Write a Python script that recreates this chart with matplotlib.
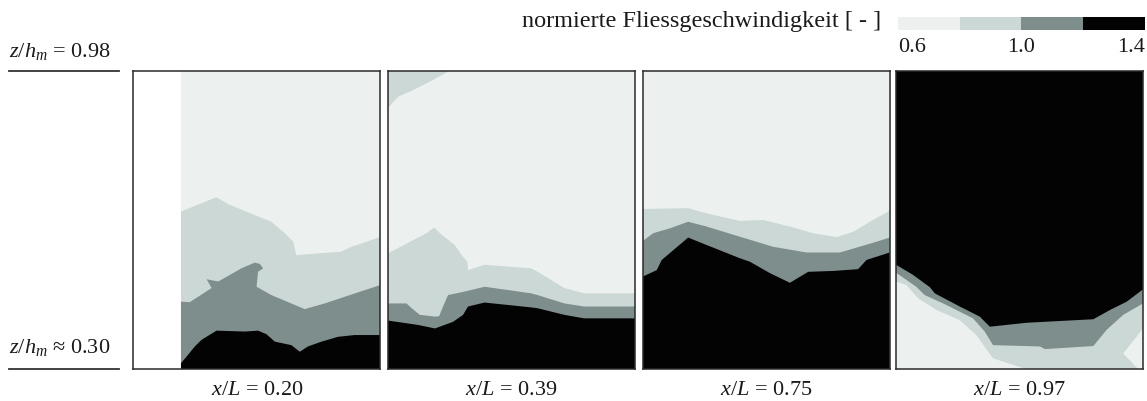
import matplotlib
matplotlib.use("Agg")
import matplotlib.pyplot as plt

plt.rcParams['font.family'] = ['Liberation Serif', 'DejaVu Serif']
plt.rcParams['mathtext.fontset'] = 'custom'
plt.rcParams['mathtext.rm'] = 'Liberation Serif'
plt.rcParams['mathtext.it'] = 'Liberation Serif:italic'

# ---------------- data ----------------
panel_labels = ["0.20", "0.39", "0.75", "0.97"]
z_top, z_bot = 0.98, 0.30
levels = [0.6, 0.8, 1.0, 1.2, 1.4]
level_colors = ['#ecf1f0', '#cbd8d5', '#7e8e8d', '#030303']
cbar_ticks = [0.6, 1.0, 1.4]

# Panel 1 (x/L = 0.20); measurements start at u = 0.193
p1_start = 0.193
p1_b1_u = [0.193, 0.337, 0.384, 0.559, 0.613, 0.647, 0.660, 0.842, 0.883, 1.0]
p1_b1_z = [0.659, 0.692, 0.676, 0.636, 0.610, 0.591, 0.560, 0.568, 0.579, 0.601]
p1_b2_u = [0.193, 0.229, 0.317, 0.297, 0.344, 0.438, 0.492, 0.512, 0.526, 0.505, 0.499, 0.559, 0.694, 0.775, 1.0]
p1_b2_z = [0.454, 0.453, 0.485, 0.505, 0.500, 0.530, 0.543, 0.540, 0.530, 0.522, 0.488, 0.469, 0.437, 0.450, 0.492]
p1_b3_u = [0.193, 0.216, 0.249, 0.276, 0.337, 0.451, 0.505, 0.539, 0.573, 0.640, 0.674, 0.707, 0.762, 0.829, 0.896, 1.0]
p1_b3_z = [0.314, 0.329, 0.352, 0.367, 0.388, 0.386, 0.388, 0.380, 0.363, 0.355, 0.340, 0.352, 0.363, 0.374, 0.378, 0.378]

# Panel 2 (x/L = 0.39)
p2_patch_u = [0.0, 0.25, 0.169, 0.102, 0.042, 0.021, 0.0]
p2_patch_z = [0.98, 0.98, 0.955, 0.936, 0.921, 0.909, 0.894]
p2_b1_u = [0.0, 0.156, 0.187, 0.210, 0.270, 0.304, 0.321, 0.324, 0.391, 0.579, 0.606, 0.714, 0.794, 1.0]
p2_b1_z = [0.564, 0.610, 0.623, 0.610, 0.583, 0.556, 0.545, 0.526, 0.538, 0.530, 0.522, 0.485, 0.473, 0.473]
p2_b2_u = [0.0, 0.075, 0.096, 0.129, 0.190, 0.207, 0.223, 0.243, 0.310, 0.391, 0.579, 0.606, 0.714, 0.794, 1.0]
p2_b2_z = [0.450, 0.450, 0.439, 0.424, 0.420, 0.421, 0.443, 0.469, 0.477, 0.488, 0.473, 0.469, 0.450, 0.443, 0.443]
p2_b3_u = [0.0, 0.122, 0.190, 0.263, 0.304, 0.324, 0.391, 0.579, 0.606, 0.714, 0.794, 1.0]
p2_b3_z = [0.411, 0.401, 0.393, 0.408, 0.424, 0.443, 0.452, 0.441, 0.439, 0.424, 0.416, 0.416]

# Panel 3 (x/L = 0.75)
p3_b1_u = [0.0, 0.184, 0.259, 0.393, 0.488, 0.596, 0.690, 0.784, 0.852, 0.932, 1.0]
p3_b1_z = [0.665, 0.667, 0.655, 0.638, 0.640, 0.625, 0.610, 0.601, 0.613, 0.640, 0.661]
p3_b2_u = [0.0, 0.043, 0.110, 0.184, 0.259, 0.393, 0.528, 0.663, 0.798, 0.932, 1.0]
p3_b2_z = [0.592, 0.610, 0.621, 0.636, 0.625, 0.602, 0.579, 0.566, 0.566, 0.588, 0.600]
p3_b3_u = [0.0, 0.057, 0.077, 0.184, 0.259, 0.393, 0.434, 0.515, 0.596, 0.670, 0.771, 0.872, 0.906, 1.0]
p3_b3_z = [0.511, 0.526, 0.549, 0.600, 0.583, 0.553, 0.545, 0.519, 0.497, 0.522, 0.524, 0.528, 0.549, 0.566]

# Panel 4 (x/L = 0.97) -- fast core on top
p4_b3_u = [0.0, 0.069, 0.137, 0.157, 0.258, 0.339, 0.380, 0.529, 0.799, 0.866, 0.934, 1.0]
p4_b3_z = [0.538, 0.515, 0.487, 0.473, 0.443, 0.420, 0.397, 0.406, 0.414, 0.435, 0.454, 0.482]
p4_b2_u = [0.0, 0.082, 0.116, 0.191, 0.312, 0.359, 0.393, 0.583, 0.603, 0.799, 0.853, 0.920, 1.0]
p4_b2_z = [0.520, 0.488, 0.469, 0.450, 0.416, 0.386, 0.355, 0.352, 0.346, 0.353, 0.390, 0.424, 0.450]
p4_b1_u = [0.0, 0.042, 0.089, 0.164, 0.258, 0.325, 0.393, 0.529]
p4_b1_z = [0.500, 0.492, 0.462, 0.435, 0.412, 0.378, 0.325, 0.300]
p4_wedge_u = [1.0, 0.920, 0.981, 1.0]
p4_wedge_z = [0.393, 0.336, 0.300, 0.300]

# ---------------- figure ----------------
W, H = 1147, 401
fig = plt.figure(figsize=(W / 100, H / 100), dpi=100)

panel_left_px = [133.3, 388.0, 642.7, 896.0]
panel_w_px = 247.0
panel_top_px, panel_bot_px = 70.7, 369.3
edge_col = '#2a2a2a'
txt_col = '#1a1a1a'
fs = 16


def below(u, z, u_left=0.0):
    """polygon under a boundary polyline, down to the bottom of the panel"""
    return list(u) + [1.0, u_left], list(z) + [z_bot, z_bot]


axes = []
for lp in panel_left_px:
    ax = fig.add_axes([lp / W, 1 - panel_bot_px / H, panel_w_px / W,
                       (panel_bot_px - panel_top_px) / H])
    ax.set_xlim(0, 1)
    ax.set_ylim(z_bot, z_top)
    ax.set_xticks([])
    ax.set_yticks([])
    for s in ax.spines.values():
        s.set_color(edge_col)
        s.set_linewidth(1.1)
        s.set_zorder(10)
    axes.append(ax)

c0, c1, c2, c3 = level_colors

# panel 1
ax = axes[0]
ax.fill([p1_start, 1, 1, p1_start], [z_bot, z_bot, z_top, z_top], color=c0, lw=0)
ax.fill(*below(p1_b1_u, p1_b1_z, p1_start), color=c1, lw=0)
ax.fill(*below(p1_b2_u, p1_b2_z, p1_start), color=c2, lw=0)
ax.fill(*below(p1_b3_u, p1_b3_z, p1_start), color=c3, lw=0)

# panel 2
ax = axes[1]
ax.fill([0, 1, 1, 0], [z_bot, z_bot, z_top, z_top], color=c0, lw=0)
ax.fill(p2_patch_u, p2_patch_z, color=c1, lw=0)
ax.fill(*below(p2_b1_u, p2_b1_z), color=c1, lw=0)
ax.fill(*below(p2_b2_u, p2_b2_z), color=c2, lw=0)
ax.fill(*below(p2_b3_u, p2_b3_z), color=c3, lw=0)

# panel 3
ax = axes[2]
ax.fill([0, 1, 1, 0], [z_bot, z_bot, z_top, z_top], color=c0, lw=0)
ax.fill(*below(p3_b1_u, p3_b1_z), color=c1, lw=0)
ax.fill(*below(p3_b2_u, p3_b2_z), color=c2, lw=0)
ax.fill(*below(p3_b3_u, p3_b3_z), color=c3, lw=0)

# panel 4
ax = axes[3]
ax.fill([0, 1, 1, 0], [z_bot, z_bot, z_top, z_top], color=c3, lw=0)
ax.fill(*below(p4_b3_u, p4_b3_z), color=c2, lw=0)
ax.fill(*below(p4_b2_u, p4_b2_z), color=c1, lw=0)
ax.fill(list(p4_b1_u) + [0.0], list(p4_b1_z) + [z_bot], color=c0, lw=0)
ax.fill(p4_wedge_u, p4_wedge_z, color=c0, lw=0)

# x/L labels
for ax, lab in zip(axes, panel_labels):
    ax.text(0.5, -0.072, r'$x/L$ = ' + lab, transform=ax.transAxes,
            ha='center', va='center', fontsize=fs, color=txt_col)

# z/h_m labels with reference lines
fig.text(9 / W, 1 - 52 / H, r'$z/h_m$ = 0.98', ha='left', va='center',
         fontsize=fs, color=txt_col)
fig.text(9 / W, 1 - 348 / H, r'$z/h_m$ ≈ 0.30', ha='left', va='center',
         fontsize=fs, color=txt_col)
for ypx in (70.7, 368.5):
    fig.add_artist(plt.Line2D([9 / W, 119 / W], [1 - ypx / H, 1 - ypx / H],
                              color='#333333', lw=1.3))

# colour bar
cax = fig.add_axes([898 / W, 1 - 30 / H, 247 / W, 13 / H])
for i in range(len(level_colors)):
    cax.axvspan(levels[i], levels[i + 1], color=level_colors[i], lw=0)
cax.set_xlim(levels[0], levels[-1])
cax.set_ylim(0, 1)
cax.axis('off')
for t, ha in zip(cbar_ticks, ['left', 'center', 'right']):
    cax.text(t, -1.35, f'{t:.1f}', ha=ha, va='center', fontsize=fs,
             color=txt_col, transform=cax.transData)

fig.text(881 / W, 1 - 21 / H, 'normierte Fliessgeschwindigkeit [ - ]',
         ha='right', va='center', fontsize=17.5, color=txt_col)

fig.savefig('out.png', dpi=100)
